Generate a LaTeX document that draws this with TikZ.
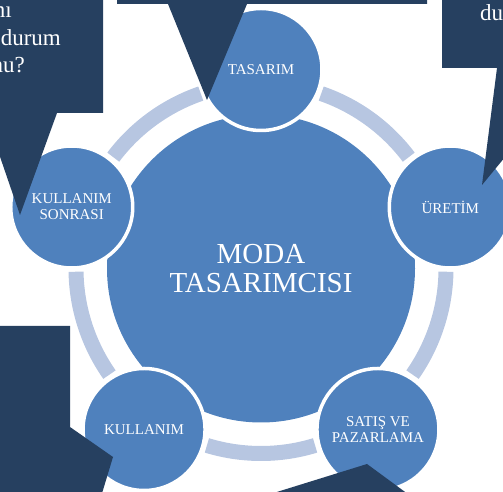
\documentclass[tikz,border=0pt]{standalone}
\usepackage{fontspec}
\setmainfont{Liberation Serif}
\usetikzlibrary{shapes}
\definecolor{ofisMavi}{RGB}{79,129,189}
\definecolor{halka}{RGB}{183,198,225}
\definecolor{lacivert}{RGB}{38,64,96}

\begin{document}
\begin{tikzpicture}[x=1pt,y=1pt]
      \tikzstyle{hub} = [circle, fill=ofisMavi, minimum size=308pt, inner sep=0pt, text=white, align=center, font=\fontsize{29}{29}\selectfont]
      \tikzstyle{station} = [circle, fill=ofisMavi, draw=white, line width=3.5pt, minimum size=122pt, inner sep=0pt, text=white, align=center, font=\fontsize{15}{16}\selectfont]
      \tikzstyle{ringarc} = [draw=halka, line width=15pt]
      \tikzstyle{callout} = [fill=lacivert]
      \tikzstyle{calltext} = [text=white, inner sep=0pt, font=\fontsize{23}{27}\selectfont]
      \useasboundingbox (0,0) rectangle (503,492);
      \clip (0,0) rectangle (503,492);
      \coordinate (mid) at (261,223.5);
      % ring
      \foreach \a in {90,18,-54,-126,162}
        \draw [ringarc] ([shift={({\a-19}:185)}]mid) arc [start angle={\a-19}, end angle={\a-53}, radius=185];
      % circles
      \node (moda) [hub] at (mid) {MODA\\TASARIMCISI};
      \node (tasarim) [station] at ([shift={(90:199)}]mid) {TASARIM};
      \node (uretim) [station] at ([shift={(18:199)}]mid) {ÜRETİM};
      \node (satis) [station] at ([shift={(-54:199)}]mid) {SATIŞ VE\\PAZARLAMA};
      \node (kullanim) [station] at ([shift={(-126:199)}]mid) {KULLANIM};
      \node (sonrasi) [station] at ([shift={(162:199)}]mid) {KULLANIM\\SONRASI};
      % callouts
      \fill [callout] (-20,500)--(103,500)--(103,379)--(57,379)--(20,277)--(-15,379)--(-20,379)--cycle;
      \fill [callout] (117,500)--(427,500)--(427,488)--(247,488)--(207,392)--(168,488)--(117,488)--cycle;
      \fill [callout] (442,500)--(510,500)--(510,341)--(482,307)--(497,424)--(442,424)--cycle;
      \fill [callout] (-20,166)--(70,166)--(70,65)--(113,35)--(100,-8)--(-20,-8)--cycle;
      \fill [callout] (251,-8)--(367,28)--(416,-8)--cycle;
      % callout texts
      \node (tlA) [calltext, anchor=base east] at (12,474) {nı};
      \node (tlB) [calltext, anchor=base east] at (61,446) {durum};
      \node (tlC) [calltext, anchor=base east] at (25,419) {nu?};
      \node (trA) [calltext, anchor=base west] at (480,471) {du};
\end{tikzpicture}
\end{document}
